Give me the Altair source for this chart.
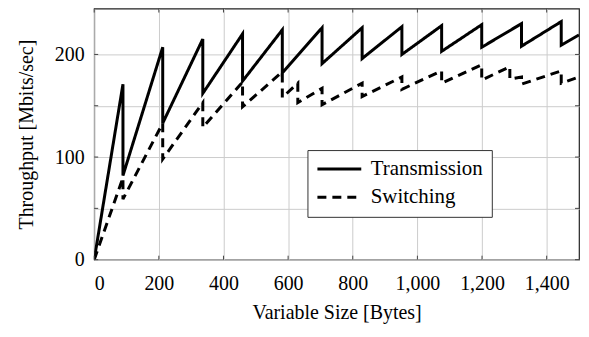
import altair as alt
import pandas as pd

# Transmission (solid) sawtooth
trans_x = [0, 89, 89, 212, 212, 336, 336, 459, 459, 582, 582, 705, 705, 829, 829,
           952, 952, 1075, 1075, 1199, 1199, 1322, 1322, 1445, 1445, 1500]
trans_y = [0, 171, 82, 207, 133, 215, 162, 220, 174, 224, 182, 226, 191, 226, 196,
           227, 200, 228, 203, 229, 207, 230, 208, 232, 209, 219]

# Switching (dashed)
switch_x = [0, 89, 89, 212, 212, 336, 336, 459, 459, 582, 582, 630, 630, 705, 705,
            829, 829, 952, 952, 1075, 1075, 1199, 1199, 1286, 1286, 1322, 1322,
            1445, 1445, 1500]
switch_y = [0, 80, 59, 133, 98, 153, 129, 173, 149, 183, 158, 172, 153, 167, 151,
            172, 159, 178, 166, 184, 172, 190, 175, 188, 176, 178, 171,
            184, 172, 178]

series_names = ["Transmission", "Switching"]
x_ticks = [0, 200, 400, 600, 800, 1000, 1200, 1400]
y_ticks = [0, 50, 100, 150, 200]

rows = []
for i, (x, y) in enumerate(zip(trans_x, trans_y)):
    rows.append({"size": x, "thr": y, "series": series_names[0], "idx": i})
for i, (x, y) in enumerate(zip(switch_x, switch_y)):
    rows.append({"size": x, "thr": y, "series": series_names[1], "idx": i})
df = pd.DataFrame(rows)
xt = pd.DataFrame({"size": x_ticks})
yt = pd.DataFrame({"thr": y_ticks})

FONT = "Liberation Serif"
W, H = 486.5, 252

xscale = alt.Scale(domain=[0, 1500], nice=False, zero=False)
yscale = alt.Scale(domain=[0, 244.7], nice=False)

lines = alt.Chart(df).mark_line(strokeWidth=3, color="black", clip=True).encode(
    x=alt.X("size:Q", scale=xscale,
            axis=alt.Axis(values=x_ticks, format=",.0f", title="Variable Size [Bytes]",
                          grid=True, ticks=False, labelPadding=14, titlePadding=9)),
    y=alt.Y("thr:Q", scale=yscale,
            axis=alt.Axis(values=y_ticks, title="Throughput [Mbits/sec]",
                          labelExpr="datum.value % 100 == 0 ? datum.label : ''",
                          grid=True, ticks=False, labelPadding=10, titlePadding=18)),
    strokeDash=alt.StrokeDash("series:N",
                              scale=alt.Scale(domain=series_names, range=[[1, 0], [9, 6]]),
                              legend=alt.Legend(title=None, orient="none",
                                                legendX=214, legendY=142,
                                                symbolType="stroke", symbolSize=1936,
                                                symbolStrokeWidth=3,
                                                symbolStrokeColor="black",
                                                labelFont=FONT, labelFontSize=21,
                                                labelColor="black", labelOffset=8,
                                                strokeColor="#333", fillColor="white",
                                                padding=8.5, rowPadding=6.4,
                                                clipHeight=21,
                                                labelLimit=300)),
    order=alt.Order("idx:Q"),
    detail="series:N",
)

tick_color = "#444"
xt_bottom = alt.Chart(xt).mark_rule(color=tick_color, strokeWidth=1).encode(
    x=alt.X("size:Q", scale=xscale), y=alt.value(H), y2=alt.value(H - 4))
xt_top = alt.Chart(xt).mark_rule(color=tick_color, strokeWidth=1).encode(
    x=alt.X("size:Q", scale=xscale), y=alt.value(0), y2=alt.value(4))
yt_left = alt.Chart(yt).mark_rule(color=tick_color, strokeWidth=1).encode(
    y=alt.Y("thr:Q", scale=yscale), x=alt.value(0), x2=alt.value(4))
yt_right = alt.Chart(yt).mark_rule(color=tick_color, strokeWidth=1).encode(
    y=alt.Y("thr:Q", scale=yscale), x=alt.value(W), x2=alt.value(W - 4))

chart = alt.layer(lines, xt_bottom, xt_top, yt_left, yt_right).properties(
    width=W, height=H,
    autosize=alt.AutoSizeParams(type="none"),
    padding={"left": 86.5, "top": 0, "right": 2, "bottom": 69},
).configure_view(
    stroke="#222", strokeWidth=1.2
).configure_axis(
    labelFont=FONT, titleFont=FONT, labelFontSize=20, titleFontSize=20,
    titleFontWeight="normal", labelColor="black", titleColor="black",
    gridColor="#cccccc", gridWidth=1, domain=False
)

chart.save("out.html", embed_options={"renderer": "svg", "actions": False})
